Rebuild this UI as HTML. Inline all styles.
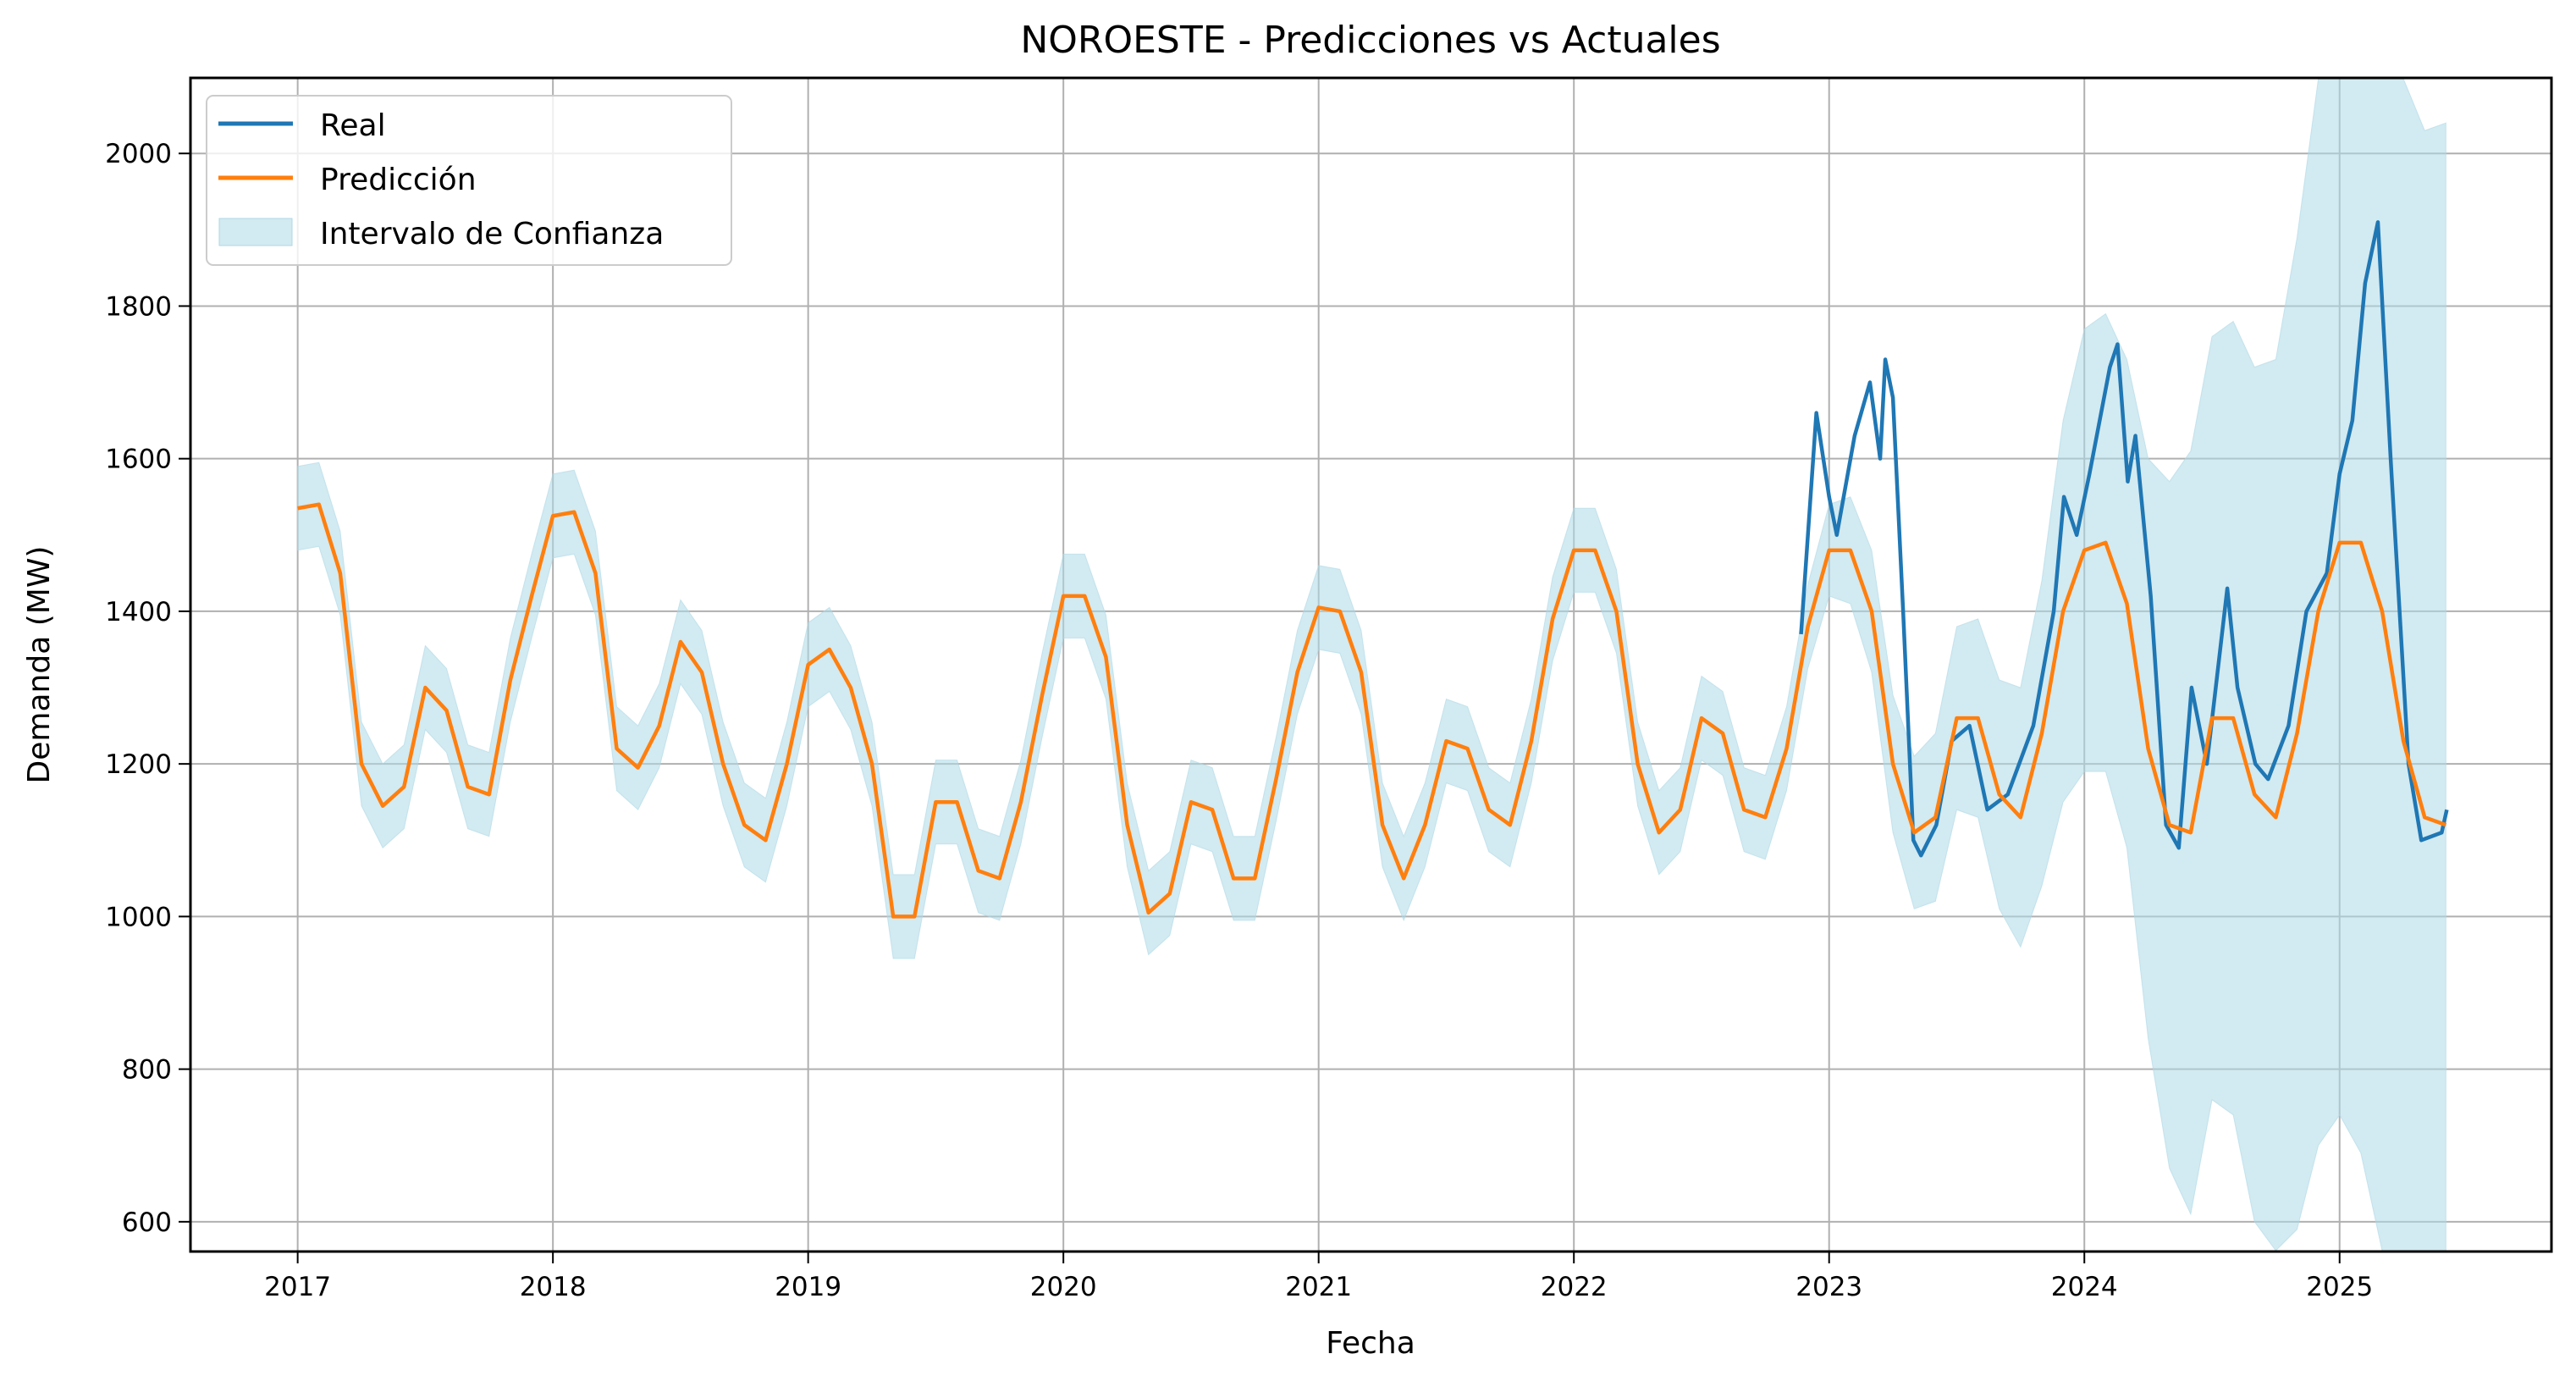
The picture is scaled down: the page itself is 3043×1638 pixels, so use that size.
<!DOCTYPE html>
<html><head><meta charset="utf-8"><style>
html,body{margin:0;padding:0;background:#fff;width:3043px;height:1638px;overflow:hidden;}
svg{display:block;}
svg text{font-family:"DejaVu Sans","Liberation Sans",sans-serif;fill:#000;}
</style></head><body>
<svg id="chart" width="3043" height="1638" xmlns="http://www.w3.org/2000/svg">
<text x="1619" y="62" font-size="44" text-anchor="middle">NOROESTE - Predicciones vs Actuales</text>
<g id="grid"></g>
<g id="plot"></g>
<rect x="225" y="92" width="2789" height="1386" fill="none" stroke="#000" stroke-width="3"/>
<g id="ticks"></g>
<text x="1619" y="1598" font-size="36" text-anchor="middle">Fecha</text>
<text transform="translate(58,785) rotate(-90)" font-size="36" text-anchor="middle">Demanda (MW)</text>
<g>
<rect x="244" y="113" width="620" height="200" rx="8" fill="#fff" fill-opacity="0.8" stroke="#ccc" stroke-width="2"/>
<line x1="258" y1="146" x2="346" y2="146" stroke="#1f77b4" stroke-width="5"/>
<text x="378" y="160" font-size="36">Real</text>
<line x1="258" y1="210" x2="346" y2="210" stroke="#ff7f0e" stroke-width="5"/>
<text x="378" y="224" font-size="36">Predicción</text>
<rect x="259" y="258" width="86" height="32" fill="#add8e6" fill-opacity="0.55" stroke="#add8e6"/>
<text x="378" y="288" font-size="36">Intervalo de Confianza</text>
</g>
</svg>
<script>
const predStartYear = 2017;
const predMonthly = [
1535,1540,1450,1200,1145,1170,1300,1270,1170,1160,1310,1420,
1525,1530,1450,1220,1195,1250,1360,1320,1200,1120,1100,1200,
1330,1350,1300,1200,1000,1000,1150,1150,1060,1050,1150,1290,
1420,1420,1340,1120,1005,1030,1150,1140,1050,1050,1180,1320,
1405,1400,1320,1120,1050,1120,1230,1220,1140,1120,1230,1390,
1480,1480,1400,1200,1110,1140,1260,1240,1140,1130,1220,1380,
1480,1480,1400,1200,1110,1130,1260,1260,1160,1130,1240,1400,
1480,1490,1410,1220,1120,1110,1260,1260,1160,1130,1240,1400,
1490,1490,1400,1230,1130,1120];
const ciHalfWidth = [
55,55,55,55,55,55,55,55,55,55,55,55,
55,55,55,55,55,55,55,55,55,55,55,55,
55,55,55,55,55,55,55,55,55,55,55,55,
55,55,55,55,55,55,55,55,55,55,55,55,
55,55,55,55,55,55,55,55,55,55,55,55,
55,55,55,55,55,55,55,55,55,55,55,55,
60,70,80,90,100,110,120,130,150,170,200,250,
290,300,320,380,450,500,500,520,560,600,650,700,
750,800,850,880,900,920];
const realDates = [2022.89,2022.95,2023.0,2023.03,2023.1,2023.16,2023.2,2023.22,2023.25,2023.29,2023.33,2023.36,2023.42,2023.48,2023.55,2023.62,2023.7,2023.8,2023.88,2023.92,2023.97,2024.02,2024.1,2024.13,2024.17,2024.2,2024.26,2024.32,2024.37,2024.42,2024.48,2024.56,2024.6,2024.67,2024.72,2024.8,2024.87,2024.95,2025.0,2025.05,2025.1,2025.15,2025.2,2025.27,2025.32,2025.4,2025.42];
const realValues = [1370,1660,1550,1500,1630,1700,1600,1730,1680,1400,1100,1080,1120,1230,1250,1140,1160,1250,1400,1550,1500,1580,1720,1750,1570,1630,1420,1120,1090,1300,1200,1430,1300,1200,1180,1250,1400,1450,1580,1650,1830,1910,1600,1200,1100,1110,1140];
const xTicks = [2017,2018,2019,2020,2021,2022,2023,2024,2025];
const yTicks = [600,800,1000,1200,1400,1600,1800,2000];

const X0=225,X1=3014,Y0=92,Y1=1478;
const xMin=2016.58,xMax=2025.83,yMin=561,yMax=2099;
const sx=v=>X0+(v-xMin)/(xMax-xMin)*(X1-X0);
const sy=v=>Y1-(v-yMin)/(yMax-yMin)*(Y1-Y0);
const cy=v=>Math.min(Y1-1,Math.max(Y0+1,sy(v)));
const NS="http://www.w3.org/2000/svg";
const mk=(t,a,p)=>{const e=document.createElementNS(NS,t);for(const k in a)e.setAttribute(k,a[k]);p.appendChild(e);return e;};
const grid=document.getElementById('grid'),plot=document.getElementById('plot'),ticks=document.getElementById('ticks');
xTicks.forEach(t=>{
  const l=mk('line',{x1:sx(t),x2:sx(t),y1:Y0,y2:Y1,stroke:'#b0b0b0','stroke-width':2},grid);
  
  
  const tk=mk('line',{x1:sx(t),x2:sx(t),y1:Y1,y2:Y1+14,stroke:'#000','stroke-width':2},ticks);
  
  
  const tx=mk('text',{x:sx(t),y:Y1+52,'font-size':31,'text-anchor':'middle'},ticks);
  tx.textContent=t;
  
  
});
yTicks.forEach(t=>{
  const l=mk('line',{x1:X0,x2:X1,y1:sy(t),y2:sy(t),stroke:'#b0b0b0','stroke-width':2},grid);
  
  
  const tk=mk('line',{x1:X0-14,x2:X0,y1:sy(t),y2:sy(t),stroke:'#000','stroke-width':2},ticks);
  
  
  const tx=mk('text',{x:X0-22,y:sy(t)+11,'font-size':31,'text-anchor':'end'},ticks);
  tx.textContent=t;
  
  
});
const g=plot;
const pd=predMonthly.map((v,i)=>predStartYear+i/12);
let up=[],lo=[];
pd.forEach((d,i)=>{up.push(sx(d)+','+cy(predMonthly[i]+ciHalfWidth[i]));lo.push(sx(d)+','+cy(predMonthly[i]-ciHalfWidth[i]));});
const band=mk('polygon',{points:up.concat(lo.reverse()).join(' '),fill:'#add8e6','fill-opacity':0.55,stroke:'#add8e6','stroke-opacity':0.6},g);


const real=mk('polyline',{points:realDates.map((d,i)=>sx(d)+','+cy(realValues[i])).join(' '),fill:'none',stroke:'#1f77b4','stroke-width':4.5,'stroke-linejoin':'round'},g);


const pred=mk('polyline',{points:pd.map((d,i)=>sx(d)+','+cy(predMonthly[i])).join(' '),fill:'none',stroke:'#ff7f0e','stroke-width':4.5,'stroke-linejoin':'round'},g);


</script>
</body></html>
